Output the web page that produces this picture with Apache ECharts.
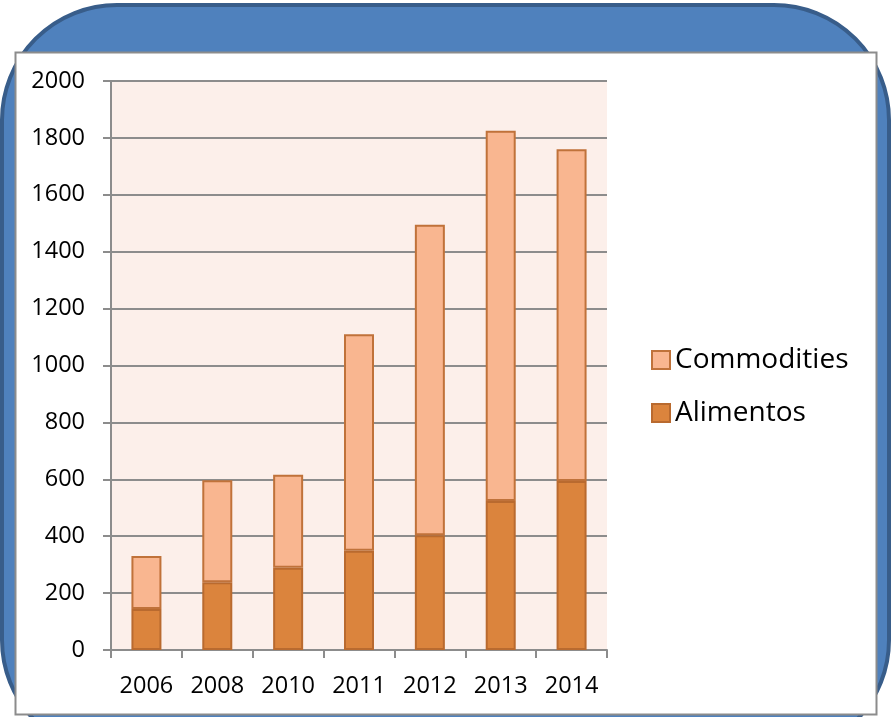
<!DOCTYPE html>
<html>
<head>
<meta charset="utf-8">
<script src="https://cdn.jsdelivr.net/npm/echarts@6/dist/echarts.min.js"></script>
<style>html,body{margin:0;padding:0;background:#fff}#c{width:892px;height:717px}</style>
</head>
<body>
<div id="c"></div>
<script>
const categories = ['2006', '2008', '2010', '2011', '2012', '2013', '2014'];
const alimentos = [144, 238, 289, 349, 403, 524, 594];
const commodities = [186, 359, 327, 761, 1092, 1301, 1166];
const yTicks = [0, 200, 400, 600, 800, 1000, 1200, 1400, 1600, 1800, 2000];

const chart = echarts.init(document.getElementById('c'), null, {renderer: 'canvas'});
const font = '"Open Sans", sans-serif';
chart.setOption({
  animation: false,
  graphic: [
    {type: 'rect', z: -10, shape: {x: 2, y: 5, width: 887, height: 750, r: 115},
     style: {fill: '#4f81bd', stroke: '#385d8a', lineWidth: 4}},
    {type: 'rect', z: -9, shape: {x: 15.5, y: 52.5, width: 861, height: 662},
     style: {fill: '#ffffff', stroke: '#8c8c8c', lineWidth: 2}}
  ],
  grid: {left: 111, right: 285, top: 81, bottom: 67, show: true,
         backgroundColor: '#fcefea', borderWidth: 0},
  legend: {
    orient: 'vertical', left: 646, top: 341, itemGap: 25,
    itemWidth: 18, itemHeight: 18, icon: 'rect',
    data: ['Commodities', 'Alimentos'],
    textStyle: {fontFamily: font, fontSize: 28, color: '#000'}
  },
  xAxis: {
    type: 'category', data: categories,
    axisLine: {lineStyle: {color: '#8c8c8c', width: 2}},
    axisTick: {show: true, length: 8, lineStyle: {color: '#8c8c8c', width: 2}},
    axisLabel: {fontFamily: font, fontSize: 23.5, color: '#000', margin: 24}
  },
  yAxis: {
    type: 'value', min: yTicks[0], max: yTicks[yTicks.length - 1], interval: 200,
    axisLine: {show: true, lineStyle: {color: '#8c8c8c', width: 2}},
    axisTick: {show: true, length: 8, lineStyle: {color: '#8c8c8c', width: 2}},
    splitLine: {lineStyle: {color: '#8c8c8c', width: 2}},
    axisLabel: {fontFamily: font, fontSize: 23.5, color: '#000', margin: 26,
                formatter: v => String(v)}
  },
  series: [
    {name: 'Alimentos', type: 'bar', stack: 's', data: alimentos, barWidth: 30,
     itemStyle: {color: '#db843d', borderColor: '#b96a2f', borderWidth: 2}},
    {name: 'Commodities', type: 'bar', stack: 's', data: commodities, barWidth: 30,
     itemStyle: {color: '#f9b690', borderColor: '#c0723a', borderWidth: 2}}
  ]
});
</script>
</body>
</html>
